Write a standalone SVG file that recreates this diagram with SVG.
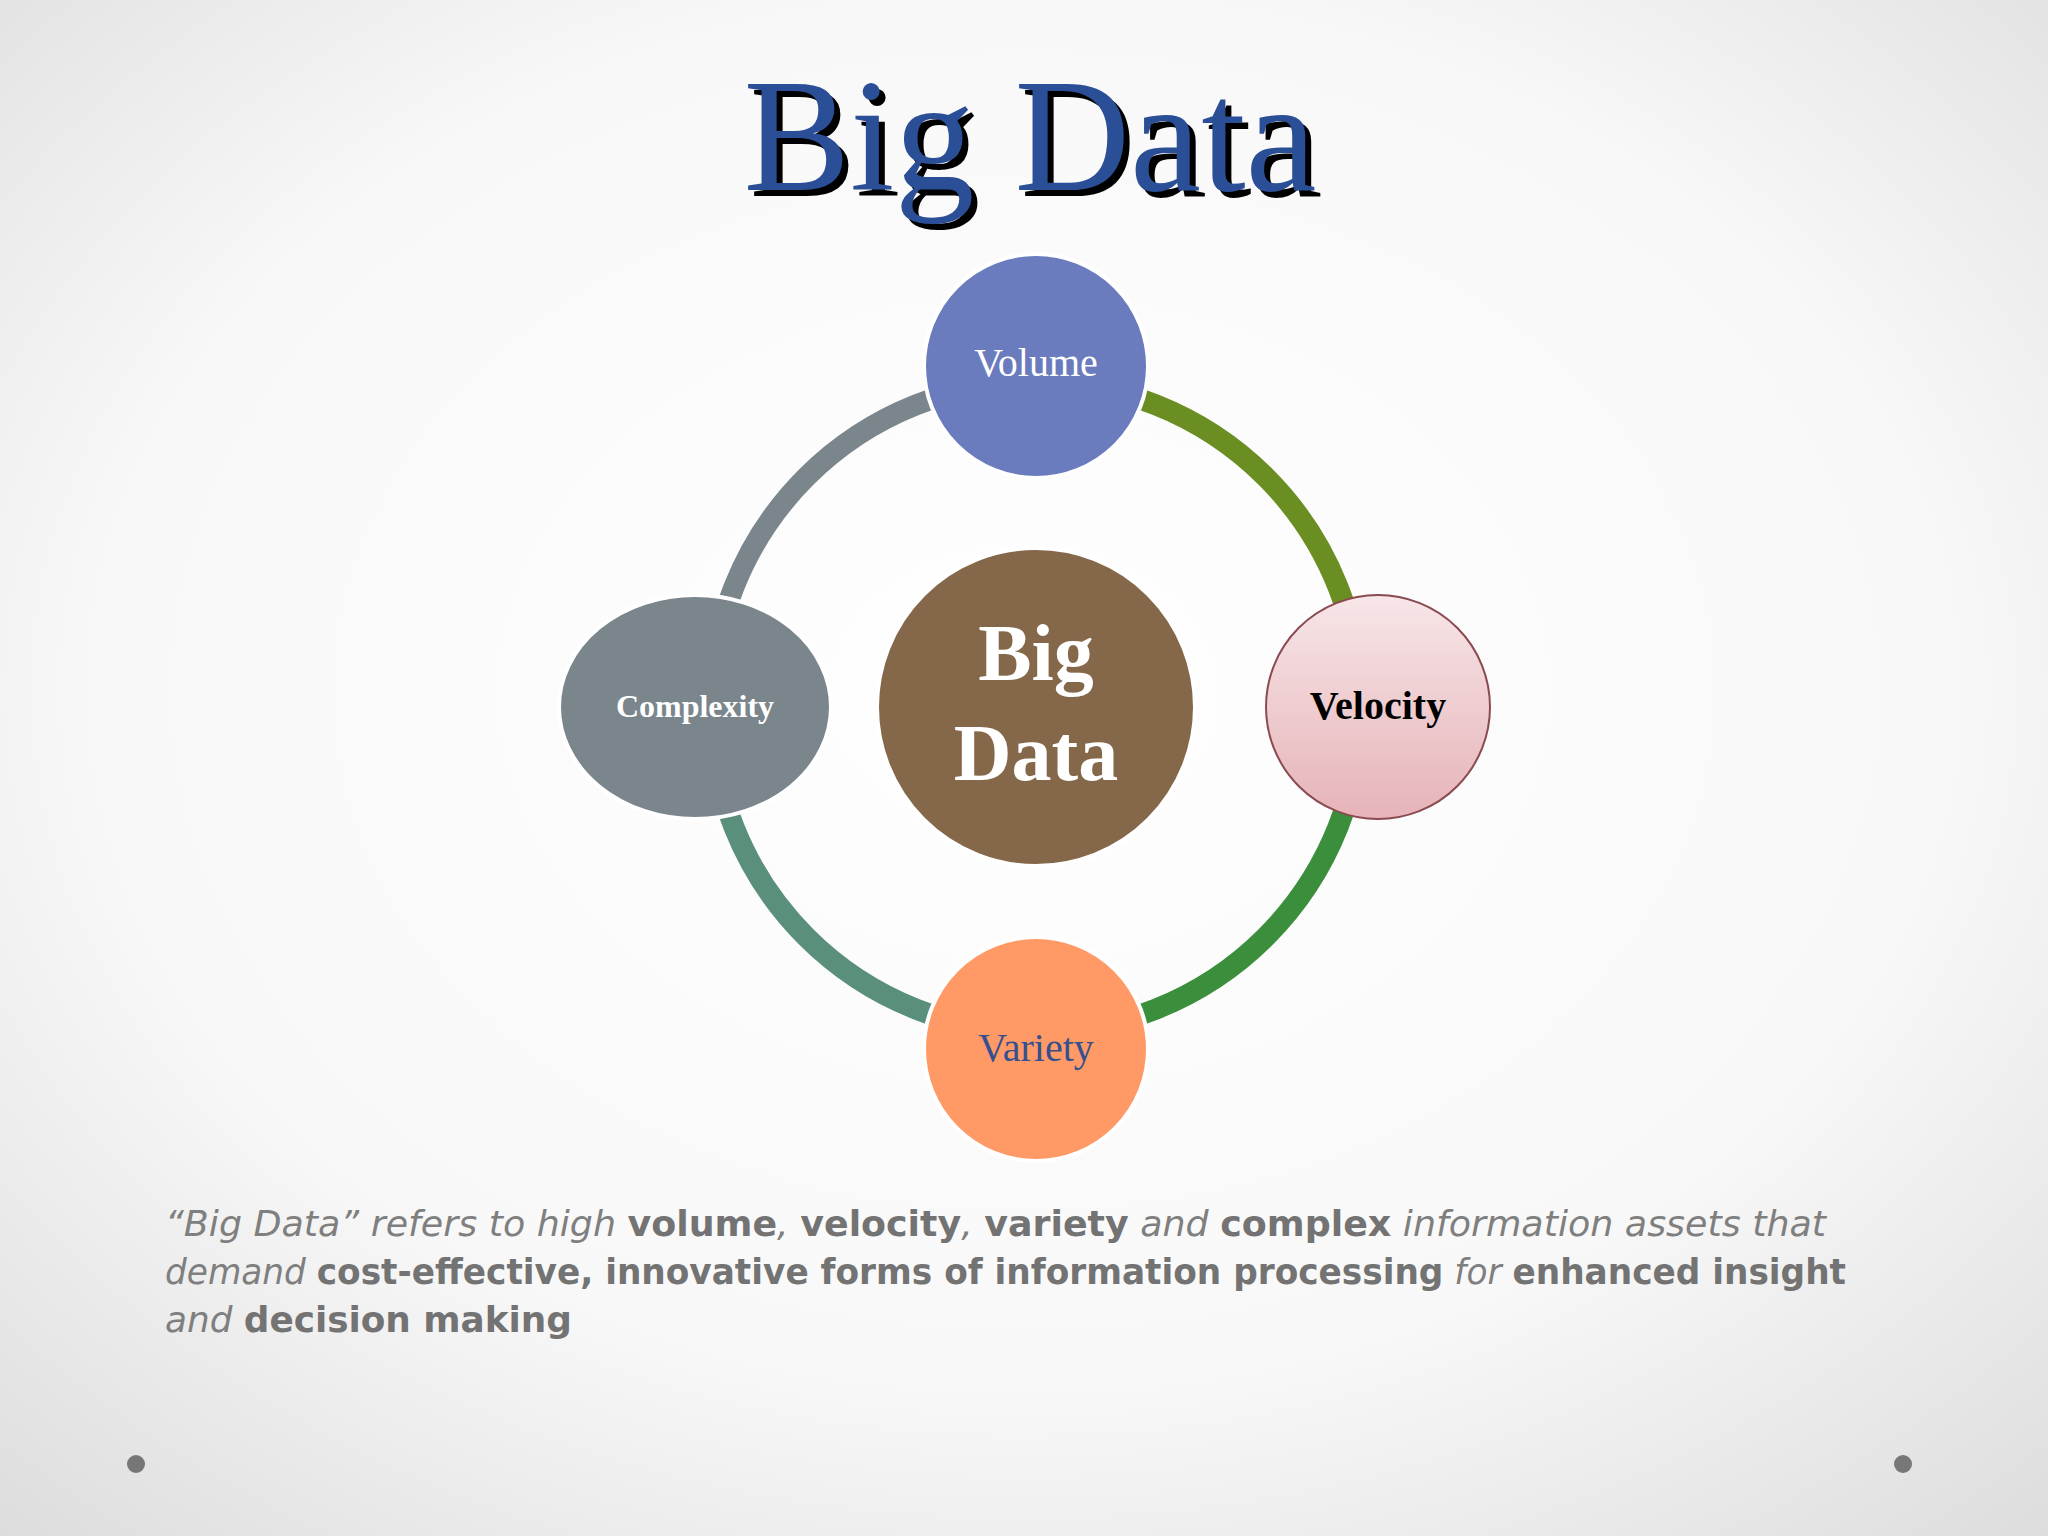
<svg xmlns="http://www.w3.org/2000/svg" width="2048" height="1536" viewBox="0 0 2048 1536">
<defs>
<radialGradient id="bg" cx="0.5" cy="0.45" r="0.75"><stop offset="0" stop-color="#ffffff"/><stop offset="0.6" stop-color="#f8f8f8"/><stop offset="1" stop-color="#dcdcdc"/></radialGradient>
<linearGradient id="pink" x1="0" y1="0" x2="0" y2="1"><stop offset="0" stop-color="#f7e6e8"/><stop offset="1" stop-color="#e6b3b8"/></linearGradient>
<style>
.arc{fill:none;stroke-width:21}
.node{stroke:#ffffff;stroke-width:4}
.lbl{font-family:"Liberation Serif",serif;text-anchor:middle}
.p{font-family:"DejaVu Sans",sans-serif;font-size:35px;fill:#7f7f7f;font-style:italic}
.p tspan.b{font-weight:bold;font-style:normal;fill:#737373}
</style>
</defs>
<rect width="2048" height="1536" fill="url(#bg)"/>
<g id="title">
<text x="1036" y="196" class="lbl" font-size="160" fill="#000">Big Data</text>
<text x="1030" y="190" class="lbl" font-size="160" fill="#2b4f96">Big Data</text>
</g>
<g id="connectors">
<path class="arc" stroke="#7b868c" d="M711,707 A325,325 0 0 1 1036,382"/>
<path class="arc" stroke="#6b8e23" d="M1036,382 A325,325 0 0 1 1361,707"/>
<path class="arc" stroke="#3b8e3b" d="M1361,707 A325,325 0 0 1 1036,1032"/>
<path class="arc" stroke="#5a8f7b" d="M1036,1032 A325,325 0 0 1 711,707"/>
</g>
<g id="center"><circle cx="1036" cy="707" r="159" fill="#85684a" class="node"/>
<text x="1036" y="680" class="lbl" font-size="80" font-weight="bold" fill="#fff">Big</text>
<text x="1036" y="780" class="lbl" font-size="80" font-weight="bold" fill="#fff">Data</text></g>
<g id="volume"><circle cx="1036" cy="366" r="112" fill="#6a7bbe" class="node"/>
<text x="1036" y="376" class="lbl" font-size="40" fill="#fff">Volume</text></g>
<g id="velocity"><circle cx="1378" cy="707" r="112" fill="url(#pink)" stroke="#8a4a50" stroke-width="2"/>
<text x="1378" y="719" class="lbl" font-size="40" font-weight="bold" fill="#000">Velocity</text></g>
<g id="variety"><circle cx="1036" cy="1049" r="112" fill="#ff9966" class="node"/>
<text x="1036" y="1061" class="lbl" font-size="40" fill="#34508f">Variety</text></g>
<g id="complexity"><ellipse cx="695" cy="707" rx="136" ry="112" fill="#7b858c" class="node"/>
<text x="695" y="717" class="lbl" font-size="32" font-weight="bold" fill="#fff">Complexity</text></g>
<g id="caption">
<text x="165" y="1236" class="p" textLength="1661" lengthAdjust="spacingAndGlyphs">“Big Data” refers to high <tspan class="b">volume</tspan>, <tspan class="b">velocity</tspan>, <tspan class="b">variety</tspan> and <tspan class="b">complex</tspan> information assets that</text>
<text x="165" y="1284" class="p" textLength="1681" lengthAdjust="spacingAndGlyphs">demand <tspan class="b">cost-effective, innovative forms of information processing</tspan> for <tspan class="b">enhanced insight</tspan></text>
<text x="165" y="1332" class="p" textLength="407" lengthAdjust="spacingAndGlyphs">and <tspan class="b">decision making</tspan></text>
</g>
<circle cx="136" cy="1464" r="9" fill="#777"/>
<circle cx="1903" cy="1464" r="9" fill="#777"/>
</svg>
